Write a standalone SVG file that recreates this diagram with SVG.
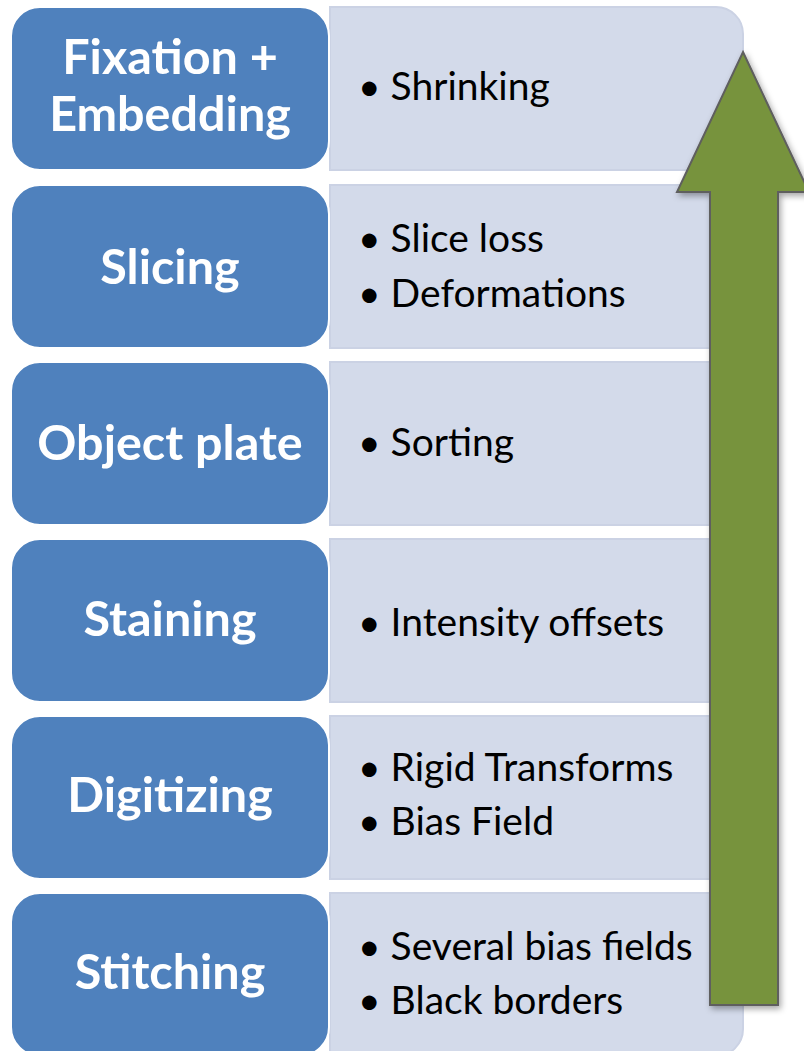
<svg xmlns="http://www.w3.org/2000/svg" width="804" height="1051" viewBox="0 0 804 1051">
<style>
.blue{fill:#4F81BD;stroke:#FFFFFF;stroke-width:2}
.light{fill:#D3DAEA;stroke:#CBD2E4;stroke-width:2}
.t{font-family:Lato,"Liberation Sans",sans-serif;font-weight:bold;font-size:48.5px;fill:#FFFFFF;text-anchor:middle}
.b{font-family:Lato,"Liberation Sans",sans-serif;font-size:39px;fill:#000000}
</style>
<defs>
<filter id="sh" x="-20%" y="-5%" width="140%" height="110%">
<feDropShadow dx="2" dy="3" stdDeviation="3" flood-color="#000" flood-opacity="0.35"/>
</filter>
<path id="lb" d="M0,0 H386 A27,27 0 0 1 413,27 V136 A27,27 0 0 1 386,163 H0 Z"/>
</defs>
<rect width="804" height="1051" fill="#FFFFFF"/>
<g id="row1">
<use href="#lb" class="light" x="330" y="7"/>
<rect class="blue" x="11" y="7" width="318" height="163" rx="29"/>
<text class="t" x="170" y="74">Fixation +</text>
<text class="t" x="170" y="131">Embedding</text>
<text class="b" x="358" y="100">•  Shrinking</text>
</g>
<g id="row2">
<use href="#lb" class="light" x="330" y="185"/>
<rect class="blue" x="11" y="185" width="318" height="163" rx="29"/>
<text class="t" x="170" y="284">Slicing</text>
<text class="b" x="358" y="252">•  Slice loss</text>
<text class="b" x="358" y="307">•  Deformations</text>
</g>
<g id="row3">
<use href="#lb" class="light" x="330" y="362"/>
<rect class="blue" x="11" y="362" width="318" height="163" rx="29"/>
<text class="t" x="170" y="460">Object plate</text>
<text class="b" x="358" y="456">•  Sorting</text>
</g>
<g id="row4">
<use href="#lb" class="light" x="330" y="539"/>
<rect class="blue" x="11" y="539" width="318" height="163" rx="29"/>
<text class="t" x="170" y="636">Staining</text>
<text class="b" x="358" y="636">•  Intensity offsets</text>
</g>
<g id="row5">
<use href="#lb" class="light" x="330" y="716"/>
<rect class="blue" x="11" y="716" width="318" height="163" rx="29"/>
<text class="t" x="170" y="812">Digitizing</text>
<text class="b" x="358" y="781">•  Rigid Transforms</text>
<text class="b" x="358" y="835">•  Bias Field</text>
</g>
<g id="row6">
<use href="#lb" class="light" x="330" y="893"/>
<rect class="blue" x="11" y="893" width="318" height="163" rx="29"/>
<text class="t" x="170" y="989">Stitching</text>
<text class="b" x="358" y="960">•  Several bias fields</text>
<text class="b" x="358" y="1014">•  Black borders</text>
</g>
<g id="connectors">
<path id="arrow" d="M743,52 L809,192 L778,192 L778,1005 L710,1005 L710,192 L677,192 Z" fill="#77933C" stroke="#5E5E5E" stroke-width="2" filter="url(#sh)"/>
</g>
</svg>
